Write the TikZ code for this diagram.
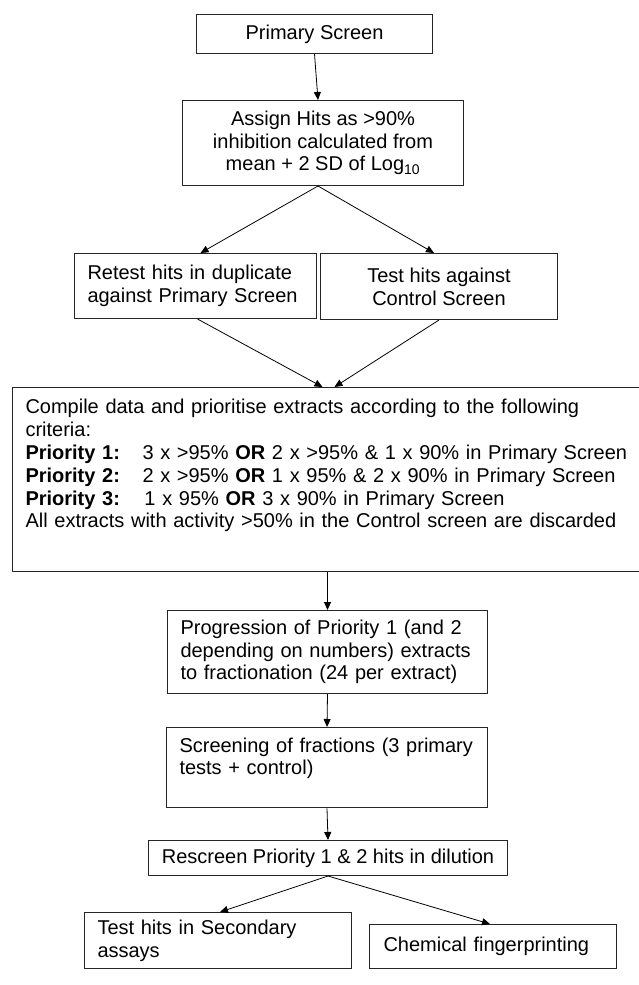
\documentclass[tikz,border=0pt]{standalone}
\usepackage{fontspec}
\setmainfont{Liberation Sans}
\usetikzlibrary{arrows.meta}
\begin{document}
\begin{tikzpicture}[x=1pt,y=-1pt,
    box/.style={draw=black!85,line width=1pt,anchor=north west,inner xsep=13pt,inner ysep=0pt,
      font=\fontsize{20pt}{22.8pt}\selectfont},
    flow/.style={-{Triangle[length=8pt,width=7pt]},line width=0.8pt}]
    \useasboundingbox (0,0) rectangle (639,985);
    \node[box,minimum width=236,minimum height=39] (prim) at (196,14) {Primary Screen};
    \node[box,minimum width=281,minimum height=85,align=center] (assign) at (182,100)
      {Assign Hits as >90\%\\inhibition calculated from\\mean + 2 SD of Log\textsubscript{10}};
    \node[box,text width=216,minimum height=65,align=left] (retest) at (74,253)
      {Retest hits in duplicate\\against Primary Screen};
    \node[box,minimum width=237,minimum height=66,align=center] (ctrl) at (320,253)
      {Test hits against\\Control Screen};
    \node[box,text width=620,inner ysep=12pt,align=left] (compile) at (12,387)
      {Compile data and prioritise extracts according to the following\\
       criteria:\\
       \makebox[117pt][l]{\textbf{Priority 1:}}3 x >95\% \textbf{OR} 2 x >95\% \& 1 x 90\% in Primary Screen\\
       \makebox[117pt][l]{\textbf{Priority 2:}}2 x >95\% \textbf{OR} 1 x 95\% \& 2 x 90\% in Primary Screen\\
       \makebox[119pt][l]{\textbf{Priority 3:}}1 x 95\% \textbf{OR} 3 x 90\% in Primary Screen\\
       All extracts with activity >50\% in the Control screen are discarded\rule[-32pt]{0pt}{0pt}};
    \node[box,text width=294,minimum height=83,align=left] (prog) at (167,610)
      {Progression of Priority 1 (and 2\\depending on numbers) extracts\\to fractionation (24 per extract)};
    \node[box,text width=295,inner ysep=10pt,align=left] (screen) at (166,727)
      {Screening of fractions (3 primary\\tests + control)\rule[-23pt]{0pt}{0pt}};
    \node[box,minimum width=359,minimum height=35] (rescreen) at (148,840)
      {Rescreen Priority 1 \& 2 hits in dilution};
    \node[box,text width=241,minimum height=56,align=left] (sec) at (84,912)
      {Test hits in Secondary\\assays};
    \node[box,inner xsep=14pt,text width=219,minimum height=44,align=left] (chem) at (369,924)
      {Chemical fingerprinting};
    \draw[flow] (prim.south) -- ([xshift=-5pt]assign.north);
    \draw[flow] ([xshift=-5pt]assign.south) -- ([xshift=5pt]retest.north);
    \draw[flow] ([xshift=-5pt]assign.south) -- ([xshift=-5pt]ctrl.north);
    \draw[flow] ([xshift=2pt]retest.south) -- ([xshift=-13pt]compile.north);
    \draw[flow] (ctrl.south) -- ([xshift=-1pt]compile.north);
    \draw[flow] (prog.north |- compile.south) -- (prog.north);
    \draw[flow] (prog.south) -- (screen.north);
    \draw[flow] (screen.south) -- (rescreen.north);
    \draw[flow] (rescreen.south) -- ([xshift=2pt]sec.north);
    \draw[flow] (rescreen.south) -- ([xshift=-3pt]chem.north);
  \end{tikzpicture}
\end{document}
